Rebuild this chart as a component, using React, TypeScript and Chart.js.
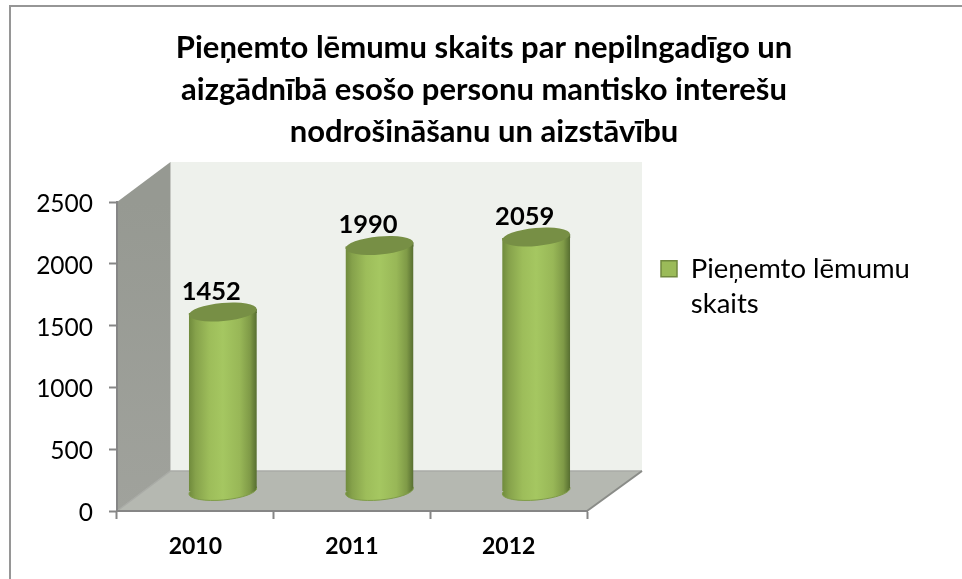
import React, { useEffect, useRef } from "react";
import { Chart, registerables } from "chart.js";

Chart.register(...registerables);

const categories = ["2010", "2011", "2012"];
const seriesName = "Pieņemto lēmumu skaits";
const legendLines = ["Pieņemto lēmumu", "skaits"];
const decisionCounts = [1452, 1990, 2059];
const yTicks = [0, 500, 1000, 1500, 2000, 2500];
const titleLines = [
  "Pieņemto lēmumu skaits par nepilngadīgo un",
  "aizgādnībā esošo personu mantisko interešu",
  "nodrošināšanu un aizstāvību",
];

const FONT = "Lato, 'Open Sans', sans-serif";
const DX = 27.5;
const DY = -19.5;
const RX = 34;
const RY = 9;
const TILT = -0.09;
const LIFT = 3.1;

function barGradient(ctx: CanvasRenderingContext2D, x: number) {
  const g = ctx.createLinearGradient(x - RX, 0, x + RX, 0);
  g.addColorStop(0, "#6f8a3c");
  g.addColorStop(0.1, "#86a24b");
  g.addColorStop(0.3, "#9dbd5a");
  g.addColorStop(0.5, "#a5c761");
  g.addColorStop(0.75, "#98b757");
  g.addColorStop(0.9, "#7f9a47");
  g.addColorStop(1, "#566d30");
  return g;
}

const scene = {
  id: "scene",
  beforeLayout(chart: any) {
    const lg = chart.legend;
    if (lg && !lg.__fixed) {
      lg.__fixed = true;
      const fit = lg.fit;
      lg.fit = function () {
        fit.call(this);
        this.width = 962 - 587;
      };
    }
  },
  beforeDraw(chart: any) {
    const { ctx, chartArea: a } = chart;
    const lg = chart.legend;
    lg.left = 651;
    lg.top = 245;
    if (lg.adjustHitBoxes) lg.adjustHitBoxes();

    ctx.save();
    ctx.fillStyle = "#ffffff";
    ctx.fillRect(0, 0, 962, 579);

    // outer frame: only its top and left edges fall inside the picture
    ctx.strokeStyle = "#969696";
    ctx.lineWidth = 2;
    ctx.beginPath();
    ctx.moveTo(10, 579);
    ctx.lineTo(10, 6);
    ctx.lineTo(962, 6);
    ctx.stroke();

    const wx = 53.5;
    const wy = -40;
    const extra = 1.5;
    ctx.fillStyle = "#eef1ec";
    ctx.fillRect(a.left + wx, a.top + wy, a.right - a.left + extra, a.bottom - a.top);

    const side = ctx.createLinearGradient(0, a.top, 0, a.bottom);
    side.addColorStop(0, "#969992");
    side.addColorStop(1, "#a0a29c");
    ctx.fillStyle = side;
    ctx.beginPath();
    ctx.moveTo(a.left, a.top);
    ctx.lineTo(a.left + wx, a.top + wy);
    ctx.lineTo(a.left + wx, a.bottom + wy);
    ctx.lineTo(a.left, a.bottom);
    ctx.closePath();
    ctx.fill();

    ctx.fillStyle = "#b5b8b1";
    ctx.beginPath();
    ctx.moveTo(a.left, a.bottom);
    ctx.lineTo(a.left + wx, a.bottom + wy);
    ctx.lineTo(a.right + wx + extra, a.bottom + wy);
    ctx.lineTo(a.right, a.bottom);
    ctx.closePath();
    ctx.fill();

    ctx.lineWidth = 1.5;
    ctx.strokeStyle = "#a9aba6";
    ctx.beginPath();
    ctx.moveTo(a.left, a.bottom);
    ctx.lineTo(a.left + wx, a.bottom + wy);
    ctx.lineTo(a.right + wx + extra, a.bottom + wy);
    ctx.stroke();
    ctx.strokeStyle = "#8a8c88";
    ctx.lineWidth = 2;
    ctx.beginPath();
    ctx.moveTo(a.right + wx + extra, a.bottom + wy);
    ctx.lineTo(a.right, a.bottom);
    ctx.stroke();
    ctx.restore();
  },
  beforeDatasetsDraw(chart: any) {
    const { ctx } = chart;
    const meta = chart.getDatasetMeta(0);
    ctx.save();
    ctx.translate(DX, DY);
    meta.data.forEach((el: any) => {
      ctx.beginPath();
      ctx.ellipse(el.x, el.base, RX, RY, TILT, 0, Math.PI * 2);
      ctx.fillStyle = barGradient(ctx, el.x);
      ctx.fill();
      ctx.strokeStyle = "#7f9c48";
      ctx.lineWidth = 1;
      ctx.stroke();
      // the sliver between the flat bar end and the tilted cap
      ctx.beginPath();
      ctx.moveTo(el.x - RX, el.y + LIFT);
      ctx.lineTo(el.x + RX, el.y - LIFT);
      ctx.lineTo(el.x + RX, el.y + 1);
      ctx.lineTo(el.x - RX, el.y + 1);
      ctx.closePath();
      ctx.fill();
    });
    ctx.save();
    ctx.beginPath();
    meta.data.forEach((el: any) => {
      ctx.moveTo(el.x - RX, el.y + LIFT);
      ctx.lineTo(el.x + RX, el.y - LIFT);
      ctx.lineTo(el.x + RX, el.base - LIFT);
      ctx.lineTo(el.x - RX, el.base + LIFT);
      ctx.closePath();
    });
    ctx.clip();
  },
  afterDatasetsDraw(chart: any) {
    const { ctx } = chart;
    const meta = chart.getDatasetMeta(0);
    ctx.restore();
    meta.data.forEach((el: any) => {
      ctx.beginPath();
      ctx.ellipse(el.x, el.y, RX, RY, TILT, 0, Math.PI * 2);
      ctx.fillStyle = "#778f45";
      ctx.fill();
    });
    ctx.restore();
    ctx.save();
    ctx.fillStyle = "#000000";
    ctx.font = `bold 25.5px ${FONT}`;
    ctx.textAlign = "center";
    ctx.textBaseline = "middle";
    meta.data.forEach((el: any, i: number) => {
      ctx.fillText(String(decisionCounts[i]), el.x + 16, el.y - 40);
    });
    ctx.restore();
  },
};

export default function App() {
  const ref = useRef<HTMLCanvasElement | null>(null);
  useEffect(() => {
    if (!ref.current) return;
    const chart = new Chart(ref.current, {
      type: "bar",
      data: {
        labels: categories,
        datasets: [
          {
            label: seriesName,
            data: decisionCounts,
            clip: false,
            categoryPercentage: 1,
            barPercentage: 68 / 156.67,
            borderWidth: 0,
            backgroundColor: (c: any) => {
              const x = c.chart.scales?.x;
              if (!x || !c.chart.chartArea || c.dataIndex === undefined) return "#9bbb59";
              return barGradient(c.chart.ctx, x.getPixelForValue(c.dataIndex));
            },
          } as any,
        ],
      },
      options: {
        responsive: false,
        animation: false,
        devicePixelRatio: 1,
        layout: { padding: { left: 6, right: 0, top: 0, bottom: 0 } },
        plugins: {
          tooltip: { enabled: false },
          title: {
            display: true,
            text: titleLines,
            color: "#000000",
            font: { family: FONT, size: 31, weight: "bold", lineHeight: 42 / 31 },
            padding: { top: 27, bottom: 49 },
          },
          legend: {
            position: "right",
            align: "start",
            labels: {
              boxWidth: 16,
              boxHeight: 16,
              padding: 10,
              color: "#000000",
              font: { family: FONT, size: 27.5, lineHeight: 35 / 27.5 },
              generateLabels: () => [
                {
                  text: legendLines as any,
                  fillStyle: "#9bbb59",
                  strokeStyle: "#71893f",
                  lineWidth: 1.5,
                  datasetIndex: 0,
                },
              ],
            },
          },
        },
        scales: {
          x: {
            grid: { drawOnChartArea: false, drawTicks: true, tickLength: 8, tickColor: "#868686", tickWidth: 2, offset: true },
            border: { display: true, color: "#868686", width: 2 },
            ticks: {
              color: "#000000",
              font: { family: FONT, size: 23, weight: "bold" },
              padding: 14,
              maxRotation: 0,
            },
            afterFit(s: any) {
              s.height = 579 - 511;
            },
          },
          y: {
            min: 0,
            max: 2500,
            afterBuildTicks(s: any) {
              s.ticks = yTicks.map((value) => ({ value }));
            },
            grid: { drawOnChartArea: false, drawTicks: true, tickLength: 8, tickColor: "#868686", tickWidth: 2 },
            border: { display: true, color: "#868686", width: 2 },
            ticks: {
              color: "#000000",
              font: { family: FONT, size: 24.5 },
              padding: 16,
              labelOffset: 2,
              callback: (v: any) => String(v),
            },
            afterFit(s: any) {
              s.width = 117 - 6;
            },
          },
        },
      } as any,
      plugins: [scene as any],
    });
    return () => chart.destroy();
  }, []);
  return (
    <div style={{ position: "absolute", left: 0, top: 0, width: 962, height: 579 }}>
      <canvas ref={ref} width={962} height={579} style={{ display: "block", width: 962, height: 579 }} />
    </div>
  );
}
